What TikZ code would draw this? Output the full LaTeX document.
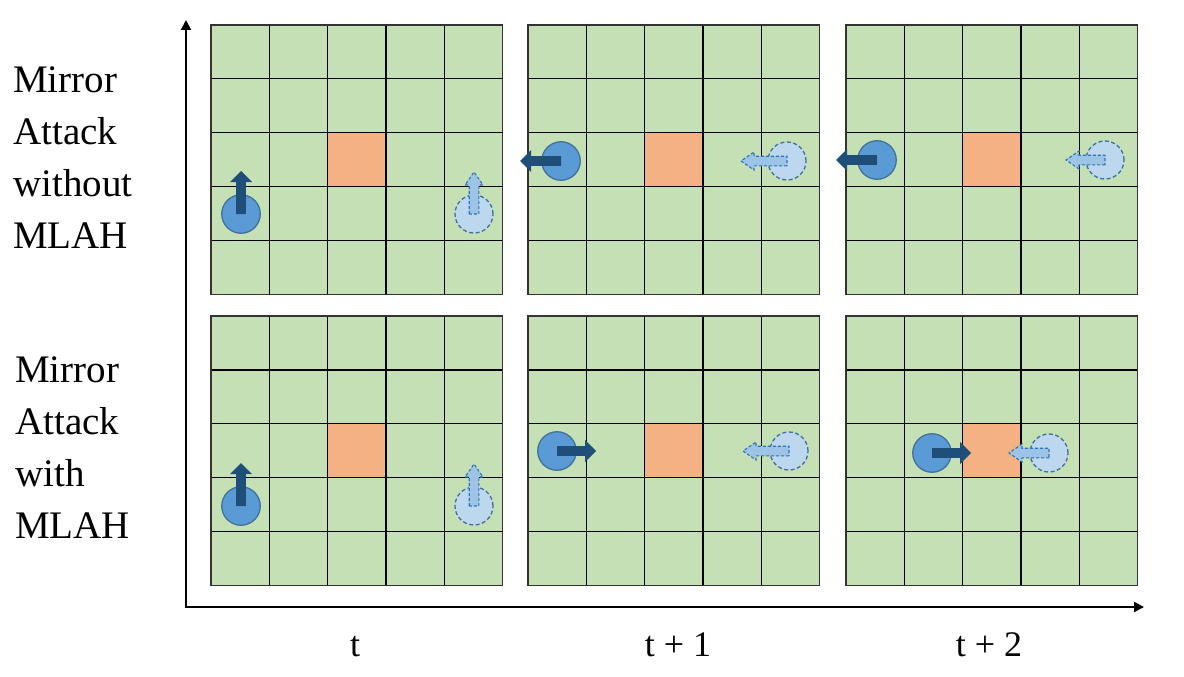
\documentclass[tikz,border=0pt]{standalone}
\usepackage{fontspec}
\setmainfont{Liberation Serif}
\usetikzlibrary{arrows.meta}
\definecolor{cellgreen}{HTML}{C5E0B4}
\definecolor{cellorange}{HTML}{F4B183}
\definecolor{agentfill}{HTML}{5B9BD5}
\definecolor{agentline}{HTML}{41719C}
\definecolor{arrowdark}{HTML}{1F4E79}
\definecolor{ghostfill}{HTML}{BDD7EE}
\definecolor{ghostarrowfill}{HTML}{9DC3E6}
\definecolor{ghostline}{HTML}{2E75B6}
\tikzset{
  panelbox/.style={fill=cellgreen, draw=black!80, line width=1.3pt, inner sep=0pt, outer sep=0pt},
  gridline/.style={draw=black, line width=1.2pt},
  agent/.style={circle, fill=agentfill, draw=agentline, line width=1.3pt, minimum size=38.5pt, inner sep=0pt},
  ghost/.style={circle, fill=ghostfill, draw=agentline, line width=1.3pt, dashed, dash pattern=on 4pt off 2.5pt, minimum size=38pt, inner sep=0pt},
  solidarr/.style={fill=arrowdark},
  ghostarr/.style={fill=ghostarrowfill, draw=ghostline, line width=1.1pt, dash pattern=on 3pt off 2pt},
  axisline/.style={draw=black, line width=2pt, {Triangle[width=10pt,length=10pt]}-{Triangle[width=10pt,length=10pt]}},
  sidelbl/.style={font=\fontsize{39}{51.7}\selectfont, align=left, inner sep=0pt},
  timelbl/.style={font=\fontsize{36}{42}\selectfont, inner sep=0pt}
}
\newcommand\panel[3]{%
  \begin{scope}[shift={(#2,#3)}, x=58.3pt, y=-53.9pt]
    \node[panelbox, anchor=north west, minimum width=291.5pt, minimum height=269.5pt] (#1) at (0,0) {};
    \fill[cellorange] (2,2) rectangle (3,3);
    \foreach \i in {1,...,4} {\draw[gridline] (\i,0) -- (\i,5); \draw[gridline] (0,\i) -- (5,\i);}
    \draw[draw=black!80, line width=1.3pt] (0,0) rectangle (5,5);
  \end{scope}}
\newcommand\blockarrow[7]{%
  \path[#1, shift={(#2)}, rotate=#3] (0,-#5) -- ({#4-#7},-#5) -- ({#4-#7},-#6) -- (#4,0) -- ({#4-#7},#6) -- ({#4-#7},#5) -- (0,#5) -- cycle;}
\newcommand\solidarrow[3]{\blockarrow{solidarr}{#1}{#2}{#3}{4.8}{11}{11}}
\newcommand\ghostarrow[3]{\blockarrow{ghostarr}{#1}{#2}{#3}{4.8}{9}{13}}
\begin{document}
\begin{tikzpicture}[x=1pt, y=-1pt]
\useasboundingbox (0,0) rectangle (1184,677);
% panels
\panel{p11}{211}{25}
\panel{p12}{528}{25}
\panel{p13}{846}{25}
\panel{p21}{211}{316}
\panel{p22}{528}{316}
\panel{p23}{846}{316}
% axes
\coordinate (O) at (186,607);
\coordinate (yend) at (186,20);
\coordinate (xend) at (1144,607);
\draw[axisline] (yend) -- (O) -- (xend);
% row 1 agents
\node[agent] (a11) at (241,214) {};
\node[ghost] (g11) at (474,214) {};
\node[agent] (a12) at (561,161) {};
\node[ghost] (g12) at (787,161) {};
\node[agent] (a13) at (877,160) {};
\node[ghost] (g13) at (1105,160) {};
% row 2 agents
\node[agent] (a21) at (241,506) {};
\node[ghost] (g21) at (474,506) {};
\node[agent] (a22) at (557,451) {};
\node[ghost] (g22) at (789,451) {};
\node[agent] (a23) at (932,453) {};
\node[ghost] (g23) at (1049,453) {};
% arrows
\solidarrow{a11}{90}{43}
\ghostarrow{g11}{90}{42}
\solidarrow{a12}{180}{41}
\ghostarrow{g12}{180}{46}
\solidarrow{a13}{180}{41}
\ghostarrow{g13}{180}{39}
\solidarrow{a21}{90}{43}
\ghostarrow{g21}{90}{42}
\solidarrow{a22}{0}{39}
\ghostarrow{g22}{180}{46}
\solidarrow{a23}{0}{39}
\ghostarrow{g23}{180}{40}
% labels
\node[sidelbl, anchor=base west] (lbl1) at (13,248) {Mirror\\Attack\\without\\MLAH};
\node[sidelbl, anchor=base west] (lbl2) at (15,538) {Mirror\\Attack\\with\\MLAH};
\node[timelbl, anchor=base] (t0) at (355,656) {t};
\node[timelbl, anchor=base] (t1) at (678,656) {t + 1};
\node[timelbl, anchor=base] (t2) at (989,656) {t + 2};
\end{tikzpicture}
\end{document}
